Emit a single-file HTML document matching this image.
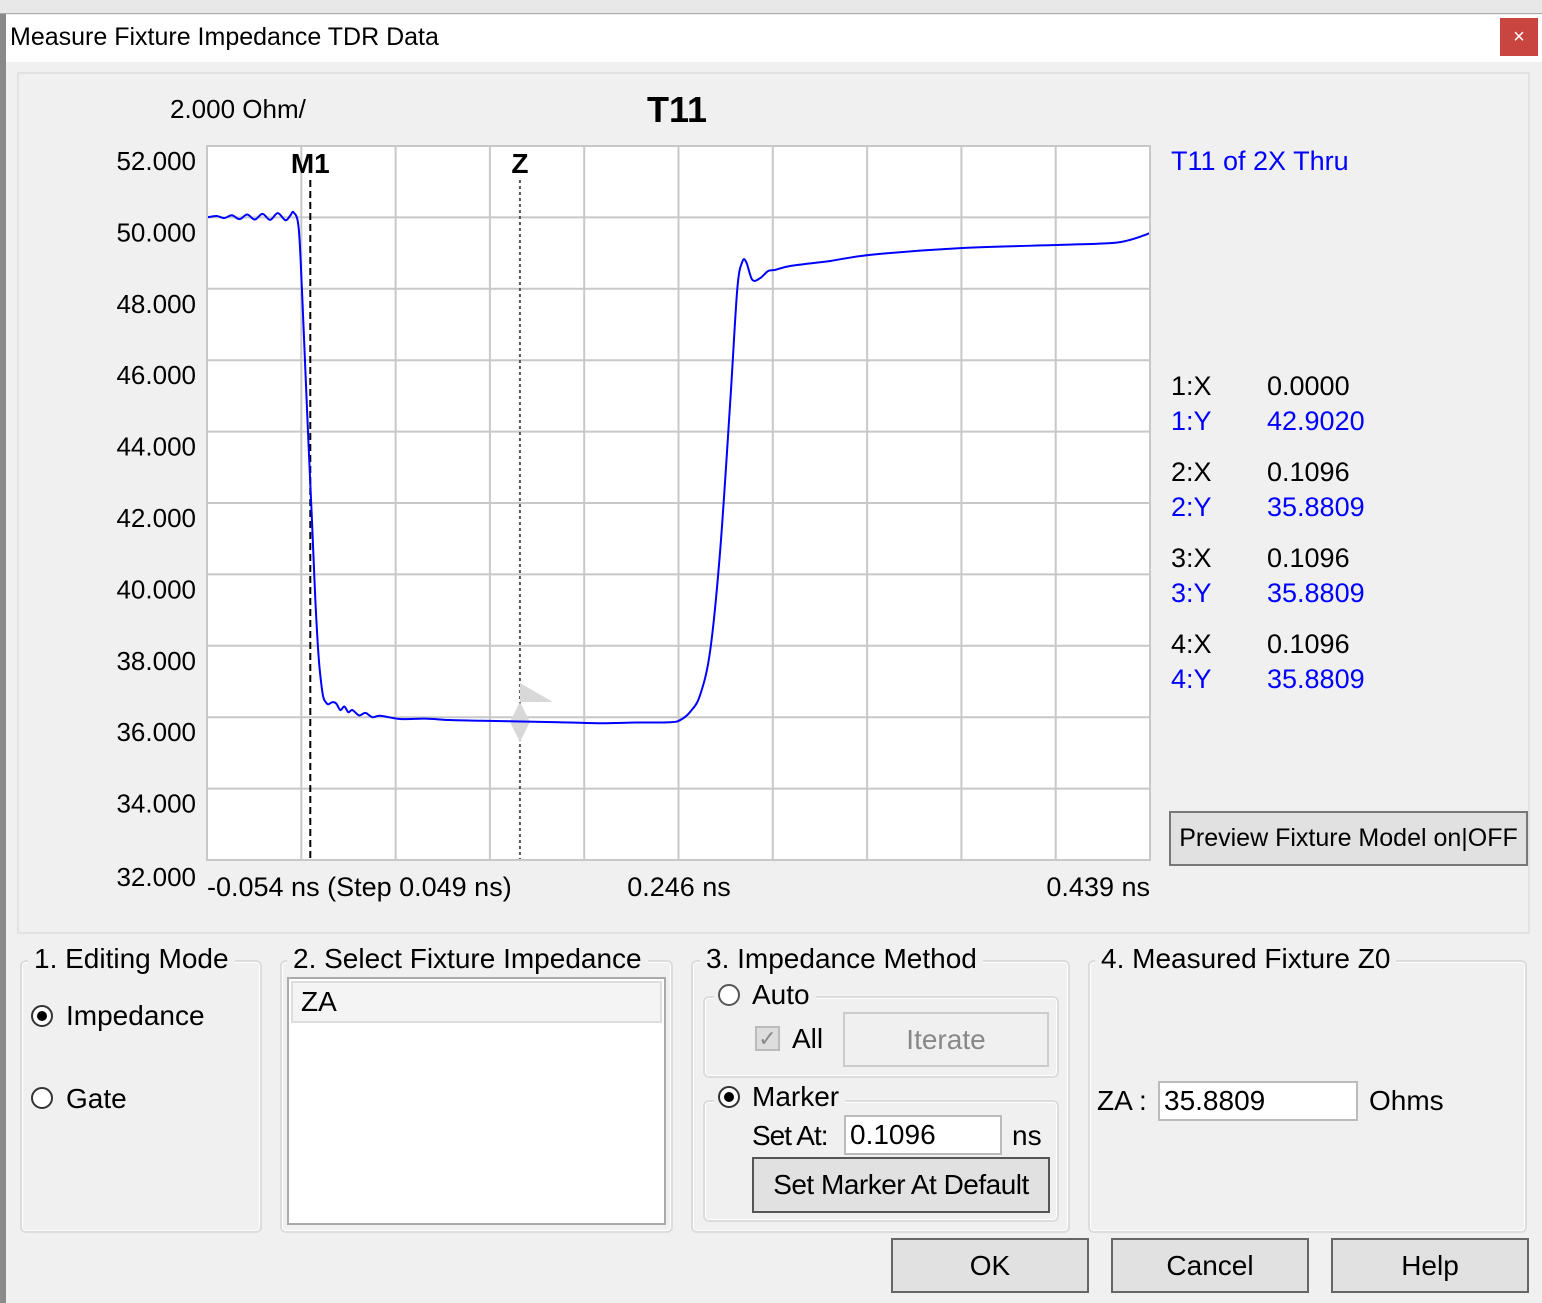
<!DOCTYPE html>
<html><head><meta charset="utf-8">
<style>
*{box-sizing:border-box;margin:0;padding:0}
body{width:1542px;height:1303px;background:#f0f0f0;font-family:"Liberation Sans",sans-serif;position:relative;overflow:hidden;color:#000}
.a{position:absolute;white-space:nowrap}
.grp{position:absolute;border:2px solid #dcdcdc;border-radius:6px;box-shadow:inset 0 0 0 1px #fff}
.leg{position:absolute;background:#f0f0f0;padding:0 6px;font-size:28px;line-height:30px;white-space:nowrap}
.btn{position:absolute;background:#e1e1e1;border:2px solid #adadad;font-size:28px;display:flex;align-items:center;justify-content:center}
.radio{position:absolute;width:22px;height:22px;border-radius:50%;border:2px solid #333;background:#fff}
.radio.on::after{content:"";position:absolute;left:4px;top:4px;width:10px;height:10px;border-radius:50%;background:#000}
.inp{position:absolute;background:#fff;border:2px solid #bbb;font-size:28px;padding-left:4px;line-height:36px}
</style></head><body>
<div class="a" style="left:0;top:0;width:6px;height:1303px;background:#8a8a8a"></div>
<div class="a" style="left:0;top:0;width:1542px;height:14px;background:#e8e8e8;border-bottom:1px solid #aaa"></div>
<div class="a" style="left:6px;top:15px;width:1536px;height:47px;background:#fff"></div>
<div class="a" style="left:10px;top:23px;font-size:25px">Measure Fixture Impedance TDR Data</div>
<div class="a" style="left:1500px;top:18px;width:38px;height:38px;background:#c8463f;color:#fff;font-size:20px;text-align:center;line-height:38px">×</div>

<div class="a" style="left:17px;top:72px;width:1513px;height:862px;border:2px solid #e2e2e2"></div>

<svg class="a" style="left:0;top:0" width="1542" height="940" id="chart"></svg>

<div class="a" style="left:1171px;top:146px;font-size:27px;color:#0000ff">T11 of 2X Thru</div>
<div class="a" style="left:1171px;top:369px;font-size:27px;line-height:34.5px">
<div style="display:flex"><span style="width:96px">1:X</span><span>0.0000</span></div>
<div style="display:flex;color:#0000ff"><span style="width:96px">1:Y</span><span>42.9020</span></div>
<div style="height:17px"></div>
<div style="display:flex"><span style="width:96px">2:X</span><span>0.1096</span></div>
<div style="display:flex;color:#0000ff"><span style="width:96px">2:Y</span><span>35.8809</span></div>
<div style="height:17px"></div>
<div style="display:flex"><span style="width:96px">3:X</span><span>0.1096</span></div>
<div style="display:flex;color:#0000ff"><span style="width:96px">3:Y</span><span>35.8809</span></div>
<div style="height:17px"></div>
<div style="display:flex"><span style="width:96px">4:X</span><span>0.1096</span></div>
<div style="display:flex;color:#0000ff"><span style="width:96px">4:Y</span><span>35.8809</span></div>
</div>
<div class="btn" style="left:1169px;top:811px;width:359px;height:55px;font-size:25px;border-color:#777">Preview Fixture Model on|OFF</div>

<!-- group 1 -->
<div class="grp" style="left:20px;top:960px;width:242px;height:273px"></div>
<div class="leg" style="left:28px;top:944px">1. Editing Mode</div>
<div class="radio on" style="left:31px;top:1005px"></div>
<div class="a" style="left:66px;top:1000px;font-size:28px">Impedance</div>
<div class="radio" style="left:31px;top:1087px"></div>
<div class="a" style="left:66px;top:1083px;font-size:28px">Gate</div>

<!-- group 2 -->
<div class="grp" style="left:280px;top:960px;width:393px;height:273px"></div>
<div class="leg" style="left:287px;top:944px">2. Select Fixture Impedance</div>
<div class="a" style="left:287px;top:977px;width:379px;height:248px;background:#fff;border:2px solid #aaa"></div>
<div class="a" style="left:291px;top:981px;width:371px;height:42px;background:#f4f4f4;border:2px solid #ddd;font-size:28px;padding-left:8px;line-height:38px">ZA</div>

<!-- group 3 -->
<div class="grp" style="left:691px;top:960px;width:379px;height:273px"></div>
<div class="leg" style="left:700px;top:944px">3. Impedance Method</div>
<div class="grp" style="left:703px;top:996px;width:356px;height:82px"></div>
<div class="leg" style="left:714px;top:980px;padding-left:4px"><span class="radio" style="position:relative;display:inline-block;vertical-align:-2px;margin-right:12px;border-color:#555"></span>Auto</div>
<div class="a" style="left:755px;top:1026px;width:25px;height:25px;background:#ddd;border:2px solid #bbb;color:#888;font-size:22px;text-align:center;line-height:21px">✓</div>
<div class="a" style="left:792px;top:1023px;font-size:28px">All</div>
<div class="btn" style="left:843px;top:1012px;width:206px;height:55px;background:#f0f0f0;border-color:#ccc;color:#888">Iterate</div>
<div class="grp" style="left:703px;top:1100px;width:356px;height:122px"></div>
<div class="leg" style="left:714px;top:1082px;padding-left:4px"><span class="radio on" style="position:relative;display:inline-block;vertical-align:-2px;margin-right:12px"></span>Marker</div>
<div class="a" style="left:752px;top:1120px;font-size:28px;letter-spacing:-1px">Set At:</div>
<div class="inp" style="left:844px;top:1115px;width:158px;height:40px">0.1096</div>
<div class="a" style="left:1012px;top:1120px;font-size:28px">ns</div>
<div class="btn" style="left:752px;top:1157px;width:298px;height:56px;border-color:#555;font-size:28px;letter-spacing:-0.5px">Set Marker At Default</div>

<!-- group 4 -->
<div class="grp" style="left:1088px;top:960px;width:439px;height:273px"></div>
<div class="leg" style="left:1095px;top:944px">4. Measured Fixture Z0</div>
<div class="a" style="left:1097px;top:1085px;font-size:28px">ZA :</div>
<div class="inp" style="left:1158px;top:1081px;width:200px;height:40px">35.8809</div>
<div class="a" style="left:1369px;top:1085px;font-size:28px">Ohms</div>

<div class="btn" style="left:891px;top:1238px;width:198px;height:55px;border-color:#666">OK</div>
<div class="btn" style="left:1111px;top:1238px;width:198px;height:55px;border-color:#666">Cancel</div>
<div class="btn" style="left:1331px;top:1238px;width:198px;height:55px;border-color:#666">Help</div>

<script>
const timesNs=[-0.054,-0.049,-0.045,-0.041,-0.037,-0.033,-0.029,-0.025,-0.021,-0.017,-0.013,-0.0105,-0.0087,-0.0061,-0.0043,-0.0026,-0.0009,0.0009,0.0026,0.0043,0.0056,0.0068,0.0081,0.0094,0.0115,0.0136,0.0157,0.0178,0.0199,0.022,0.0255,0.0288,0.0325,0.0366,0.047,0.06,0.0732,0.09,0.1098,0.13,0.1516,0.17,0.1882,0.1934,0.1986,0.2038,0.2091,0.2143,0.2196,0.2232,0.2258,0.2279,0.2311,0.2352,0.2394,0.2431,0.2509,0.2718,0.2927,0.3398,0.392,0.4182,0.4286,0.439];
const impedanceOhm=[50.0,50.04,49.98,50.06,49.95,50.08,49.94,50.1,49.93,50.12,49.92,50.05,50.14,49.72,47.90,45.75,43.62,41.48,39.33,37.73,37.0,36.56,36.42,36.36,36.42,36.38,36.2,36.3,36.14,36.2,36.05,36.12,36.0,36.04,35.95,35.96,35.92,35.9,35.88,35.86,35.83,35.85,35.86,35.92,36.15,36.62,37.88,40.68,44.88,47.97,48.75,48.75,48.25,48.30,48.50,48.53,48.64,48.78,48.95,49.14,49.23,49.28,49.37,49.56];
const yTicks=[52,50,48,46,44,42,40,38,36,34,32];
const yTickLabels=["52.000","50.000","48.000","46.000","44.000","42.000","40.000","38.000","36.000","34.000","32.000"];
const markerNames=["M1","Z"];
const markerTimes=[0,0.1096];

const svg=document.getElementById('chart');
const NS='http://www.w3.org/2000/svg';
const L=207,R=1150,T=146,B=860,xMin=-0.054,xMax=0.439,yMin=32,yMax=52;
const xs=t=>L+(t-xMin)/(xMax-xMin)*(R-L);
const ys=v=>B-(v-yMin)/(yMax-yMin)*(B-T);
function mk(tag,attrs,txt){const e=document.createElementNS(NS,tag);for(const k in attrs)e.setAttribute(k,attrs[k]);if(txt!==undefined)e.textContent=txt;svg.appendChild(e);return e;}

const bg=mk('rect',{x:L,y:T,width:R-L,height:B-T,fill:'#fff'});


for(let i=0;i<=10;i++){
  const x=L+i*(R-L)/10;
  const g=mk('line',{x1:x,x2:x,y1:T,y2:B,stroke:'#c8c8c8','stroke-width':2});
  
  
}
yTicks.forEach((v,i)=>{
  const y=ys(v);
  const g=mk('line',{x1:L,x2:R,y1:y,y2:y,stroke:'#c8c8c8','stroke-width':2});
  
  
  const t=mk('text',{x:196,y:y+(i===yTicks.length-1?26:24),'text-anchor':'end','font-size':26,'font-family':'Liberation Sans'},yTickLabels[i]);
  
  
});
const yu=mk('text',{x:170,y:118,'font-size':26,'font-family':'Liberation Sans'},'2.000 Ohm/');


const ti=mk('text',{x:677,y:122,'text-anchor':'middle','font-size':36,'font-weight':'bold','font-family':'Liberation Sans'},'T11');


const xl=[["-0.054 ns (Step 0.049 ns)",207,'start'],["0.246 ns",679,'middle'],["0.439 ns",1150,'end']];
xl.forEach(a=>{const t=mk('text',{x:a[1],y:896,'text-anchor':a[2],'font-size':27,'font-family':'Liberation Sans'},a[0]);

});

markerTimes.forEach((m,i)=>{
  const x=xs(m);
  const ln=mk('line',{x1:x,x2:x,y1:180,y2:B,stroke:i===0?'#000':'#555','stroke-width':2,'stroke-dasharray':i===0?'7,4':'3,3'});
  
  
  const t=mk('text',{x:x,y:173,'text-anchor':'middle','font-size':28,'font-weight':'bold','font-family':'Liberation Sans'},markerNames[i]);
  
  
});
const zx=xs(markerTimes[1]);
const hd=mk('path',{d:`M${zx} 683 L${zx+33} 702 L${zx} 702 Z M${zx} 702 L${zx+10} 722 L${zx} 742 L${zx-10} 722 Z`,fill:'#d8d8d8'});



const pts=timesNs.map((t,i)=>[xs(t),ys(impedanceOhm[i])]);
let d=`M${pts[0][0]},${pts[0][1]}`;
for(let i=1;i<pts.length;i++){
  const p0=pts[Math.max(0,i-2)],p1=pts[i-1],p2=pts[i],p3=pts[Math.min(pts.length-1,i+1)];
  const c1x=p1[0]+(p2[0]-p0[0])/6,c1y=p1[1]+(p2[1]-p0[1])/6,c2x=p2[0]-(p3[0]-p1[0])/6,c2y=p2[1]-(p3[1]-p1[1])/6;
  d+=` C${c1x},${c1y} ${c2x},${c2y} ${p2[0]},${p2[1]}`;
}
const line=mk('path',{d:d,fill:'none',stroke:'#0000ff','stroke-width':2});


const fr=mk('rect',{x:L,y:T,width:R-L,height:B-T,fill:'none',stroke:'#c8c8c8','stroke-width':2});


</script>
</body></html>
